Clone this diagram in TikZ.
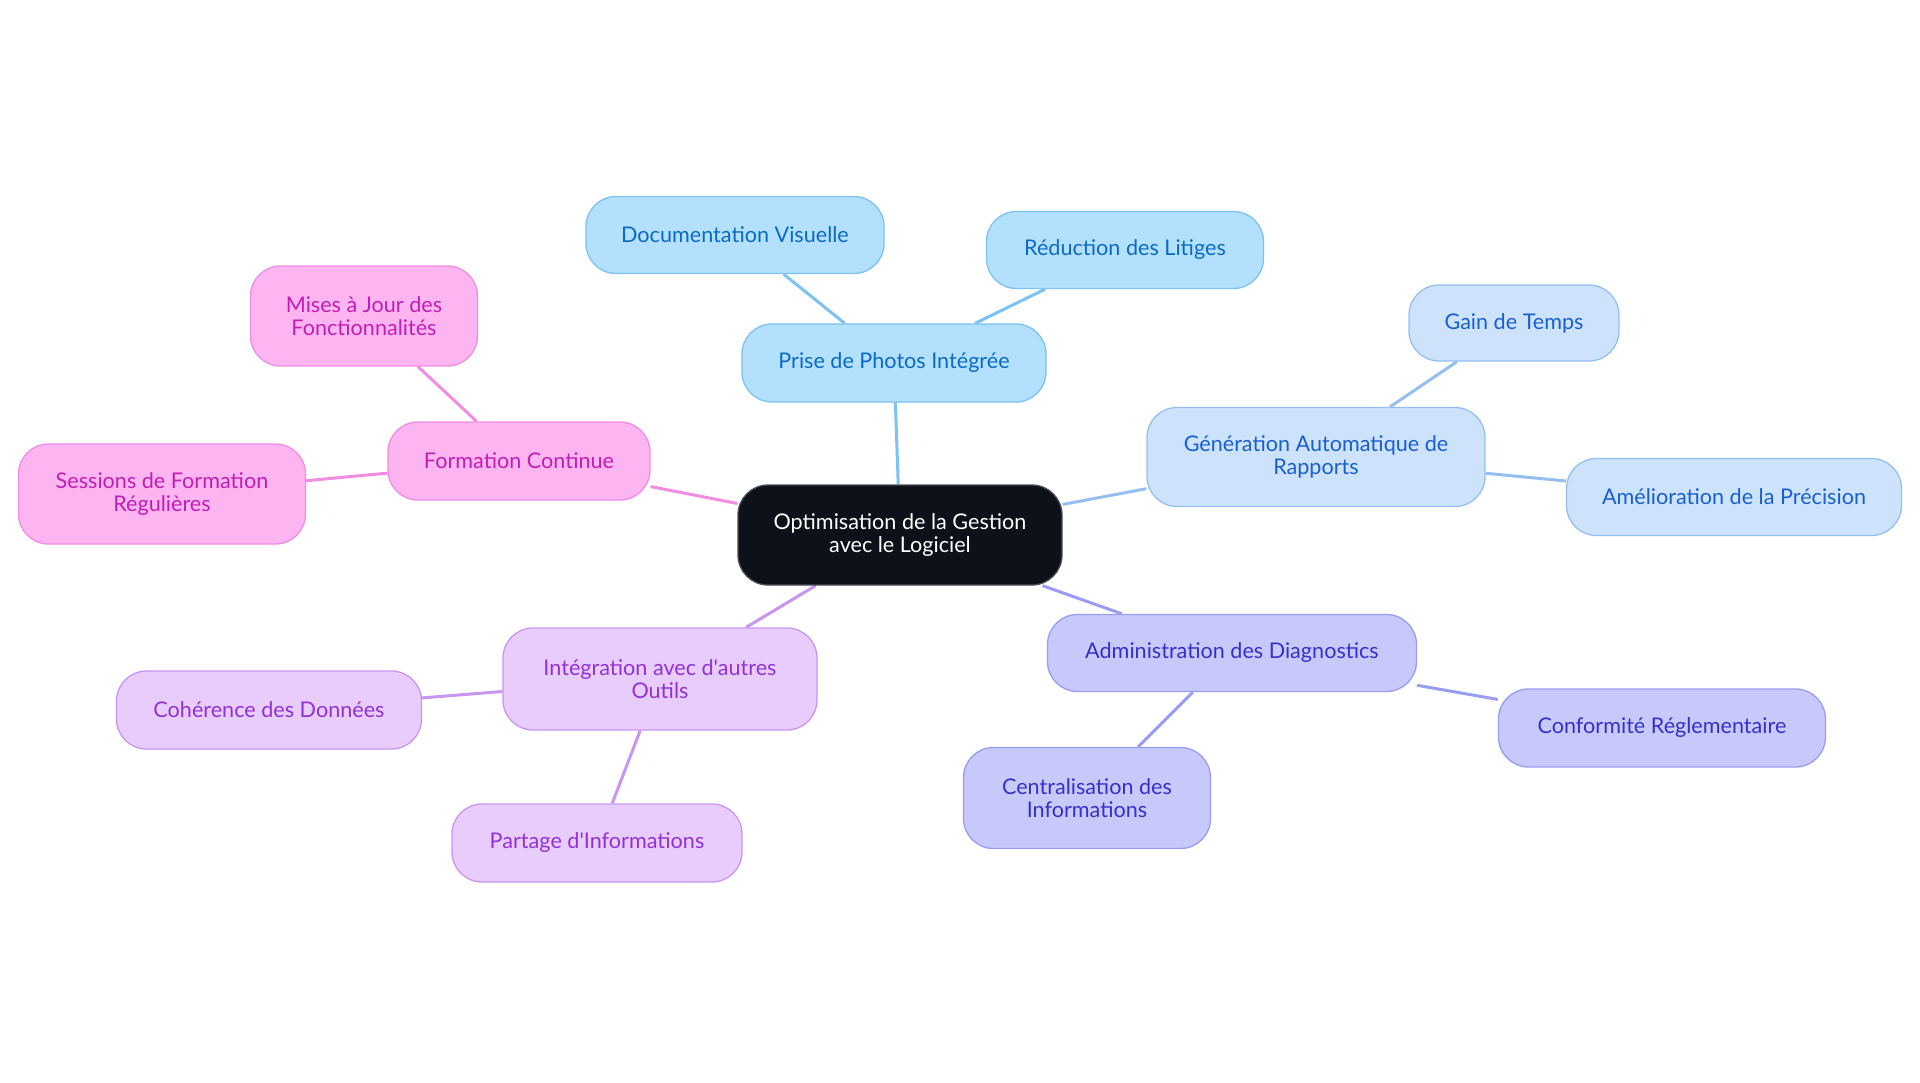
\documentclass[tikz,border=0pt]{standalone}
\usepackage{fontspec}
\setmainfont{Lato}[Ligatures=TeXOff]
\usetikzlibrary{backgrounds}
\definecolor{cfill}{HTML}{0C111A}
\definecolor{cdraw}{HTML}{4A4F57}
\definecolor{afill}{HTML}{B3E0FD}\definecolor{adraw}{HTML}{7CC2F2}\definecolor{atext}{HTML}{0B6BC4}
\definecolor{bfill}{HTML}{CCE3FB}\definecolor{bdraw}{HTML}{95BFF1}\definecolor{btext}{HTML}{1A5FD0}
\definecolor{dfill}{HTML}{C8C9FB}\definecolor{ddraw}{HTML}{9A9CF2}\definecolor{dtext}{HTML}{3530CC}
\definecolor{efill}{HTML}{E7CCFC}\definecolor{edraw}{HTML}{C995F0}\definecolor{etext}{HTML}{9231D6}
\definecolor{ffill}{HTML}{FDB5F1}\definecolor{fdraw}{HTML}{F08CE2}\definecolor{ftext}{HTML}{C21DB4}
\tikzset{
  box/.style={rounded corners=30pt, line width=1.3pt, align=center, inner sep=0pt,
    font=\fontsize{21.6}{23.5}\selectfont},
  centre/.style={box, fill=cfill, draw=cdraw, text=white},
  ba/.style={box, fill=afill, draw=adraw, text=atext},
  bb/.style={box, fill=bfill, draw=bdraw, text=btext},
  bd/.style={box, fill=dfill, draw=ddraw, text=dtext},
  be/.style={box, fill=efill, draw=edraw, text=etext},
  bf/.style={box, fill=ffill, draw=fdraw, text=ftext},
  link/.style={line width=3pt},
}
\begin{document}
\begin{tikzpicture}[x=1pt,y=-1pt]
\useasboundingbox (0,0) rectangle (1920,1083);
\node[centre, minimum width=324pt, minimum height=100pt] (c) at (900,535) {Optimisation de la Gestion\\avec le Logiciel};
% blue
\node[ba, minimum width=304pt, minimum height=78pt] (p) at (894,363) {Prise de Photos Intégrée};
\node[ba, minimum width=298pt, minimum height=77pt] (pd) at (735,235) {Documentation Visuelle};
\node[ba, minimum width=277pt, minimum height=77pt] (pr) at (1125,250) {Réduction des Litiges};
% light blue
\node[bb, minimum width=338pt, minimum height=99pt] (g) at (1316,457) {Génération Automatique de\\Rapports};
\node[bb, minimum width=210pt, minimum height=76pt] (gt) at (1514,323) {Gain de Temps};
\node[bb, minimum width=335pt, minimum height=77pt] (ga) at (1734,497) {Amélioration de la Précision};
% indigo
\node[bd, minimum width=369pt, minimum height=77pt] (a) at (1232,653) {Administration des Diagnostics};
\node[bd, minimum width=327pt, minimum height=78pt] (ac) at (1662,728) {Conformité Réglementaire};
\node[bd, minimum width=247pt, minimum height=101pt] (ai) at (1087,798) {Centralisation des\\Informations};
% purple
\node[be, minimum width=314pt, minimum height=102pt] (i) at (660,679) {Intégration avec d'autres\\Outils};
\node[be, minimum width=305pt, minimum height=78pt] (ic) at (269,710) {Cohérence des Données};
\node[be, minimum width=290pt, minimum height=78pt] (ip) at (597,843) {Partage d'Informations};
% pink
\node[bf, minimum width=262pt, minimum height=78pt] (f) at (519,461) {Formation Continue};
\node[bf, minimum width=227pt, minimum height=100pt] (fm) at (364,316) {Mises à Jour des\\Fonctionnalités};
\node[bf, minimum width=287pt, minimum height=100pt] (fs) at (162,494) {Sessions de Formation\\Régulières};
\begin{scope}[on background layer]
\draw[link, adraw] (c) -- (p);
\draw[link, adraw] (p) -- (pd);
\draw[link, adraw] (p) -- (pr);
\draw[link, bdraw] (c) -- (g);
\draw[link, bdraw] (g) -- (gt);
\draw[link, bdraw] (g) -- (ga);
\draw[link, ddraw] (c) -- (a);
\draw[link, ddraw] (a) -- (ac);
\draw[link, ddraw] (a) -- (ai);
\draw[link, edraw] (c) -- (i);
\draw[link, edraw] (i) -- (ic);
\draw[link, edraw] (i) -- (ip);
\draw[link, fdraw] (c) -- (f);
\draw[link, fdraw] (f) -- (fm);
\draw[link, fdraw] (f) -- (fs);
\end{scope}
\end{tikzpicture}
\end{document}
